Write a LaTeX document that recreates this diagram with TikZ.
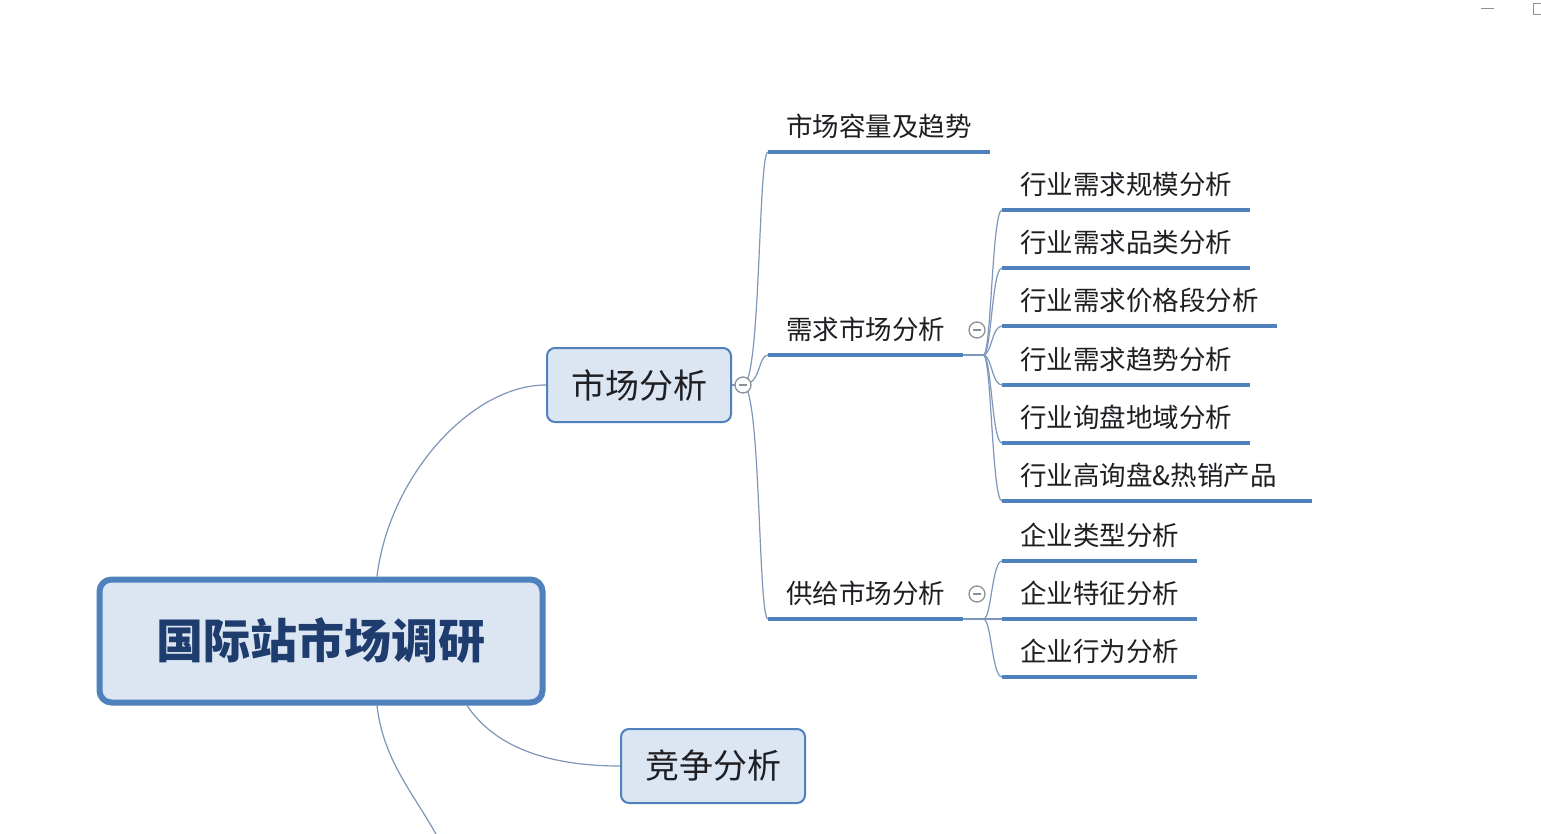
\documentclass[tikz,border=0pt]{standalone}
\usepackage{fontspec}
\setmainfont{Noto Sans CJK SC}
\usepackage{tikz}
\usetikzlibrary{positioning}
\definecolor{myblue}{RGB}{79,129,189}
\definecolor{hdrblue}{RGB}{220,230,242}
\definecolor{mynavy}{RGB}{31,60,110}
\definecolor{mydark}{RGB}{30,30,35}
\definecolor{mylink}{RGB}{125,150,185}
\definecolor{mygray}{RGB}{140,145,150}
\tikzset{
  rootbox/.style={rectangle, draw=myblue, fill=hdrblue,
    minimum width=443pt, minimum height=123pt,
    rounded corners=12pt, line width=6pt, text=mynavy,
    font=\fontsize{47}{50}\selectfont\bfseries},
  topicbox/.style={rectangle, draw=myblue, fill=hdrblue,
    minimum width=184pt, minimum height=74pt,
    rounded corners=8pt, line width=2pt, text=mydark,
    font=\fontsize{34}{40}\selectfont},
  subtopic/.style={anchor=south west, inner xsep=18pt, inner ysep=15pt,
    text height=22pt, text depth=0pt, text=mydark,
    font=\fontsize{26.5}{30}\selectfont},
  fold/.style={circle, draw=mygray, fill=white, minimum size=16pt,
    inner sep=0pt, line width=1.3pt,
    path picture={\draw[mygray, line width=1.2pt]
      ([xshift=4pt]path picture bounding box.west) --
      ([xshift=-4pt]path picture bounding box.east);}},
  uline/.style={line width=3.5pt, color=myblue},
  link/.style={line width=1.2pt, color=mylink}
}

\begin{document}
\begin{tikzpicture}[x=1pt, y=-1pt]
  \useasboundingbox[fill=white] (0,0) rectangle (1541,834);

  \node[rootbox] (root) at (321,641) {国际站市场调研};
  \node[topicbox] (mkt) at (639,385) {市场分析};
  \node[topicbox] (comp) at (713,766) {竞争分析};
  \coordinate (more) at (452,870);

  \node[subtopic] (cap) at (768,152) {市场容量及趋势};
  \node[subtopic] (dem) at (768,355) {需求市场分析};
  \node[subtopic] (sup) at (768,619) {供给市场分析};

  \node[subtopic] (d1) at (1002,210) {行业需求规模分析};
  \node[subtopic] (d2) at (1002,268) {行业需求品类分析};
  \node[subtopic] (d3) at (1002,326) {行业需求价格段分析};
  \node[subtopic] (d4) at (1002,385) {行业需求趋势分析};
  \node[subtopic] (d5) at (1002,443) {行业询盘地域分析};
  \node[subtopic, text width=274pt, align=left] (d6) at (1002,501) {行业高询盘\&热销产品};

  \node[subtopic] (s1) at (1002,561) {企业类型分析};
  \node[subtopic] (s2) at (1002,619) {企业特征分析};
  \node[subtopic] (s3) at (1002,677) {企业行为分析};

  \draw[link] ([xshift=56pt]root.north) .. controls +(12,-100) and +(-75,0) .. (mkt.west);
  \draw[link] ([xshift=146pt]root.south) .. controls +(30,45) and +(-65,0) .. (comp.west);
  \draw[link] ([xshift=56pt]root.south) .. controls +(8,70) and +(-20,-60) .. (more);

  \draw[link] (mkt.east) -- (743,385);
  \draw[link] (743,385) .. controls +(18,0) and +(-10,0) .. (cap.south west);
  \draw[link] (743,385) .. controls +(18,0) and +(-10,0) .. (dem.south west);
  \draw[link] (743,385) .. controls +(18,0) and +(-10,0) .. (sup.south west);

  \draw[link] (dem.south east) -- ++(20,0) coordinate (dj);
  \foreach \n in {d1,d2,d3,d4,d5,d6}
    \draw[link] (dj) .. controls +(8,0) and +(-10,0) .. (\n.south west);
  \draw[link] (sup.south east) -- ++(20,0) coordinate (sj);
  \foreach \n in {s1,s2,s3}
    \draw[link] (sj) .. controls +(8,0) and +(-10,0) .. (\n.south west);

  \foreach \n in {cap,dem,sup,d1,d2,d3,d4,d5,d6,s1,s2,s3}
    \draw[uline] (\n.south west) -- (\n.south east);

  \node[fold] (f1) at (743,385) {};
  \node[fold] (f2) at (977,330) {};
  \node[fold] (f3) at (977,594) {};

  \draw[mygray, line width=1pt] (1481,9) -- (1494,9);
  \draw[mygray, line width=1pt] (1533,4) rectangle (1547,15);
\end{tikzpicture}
\end{document}
